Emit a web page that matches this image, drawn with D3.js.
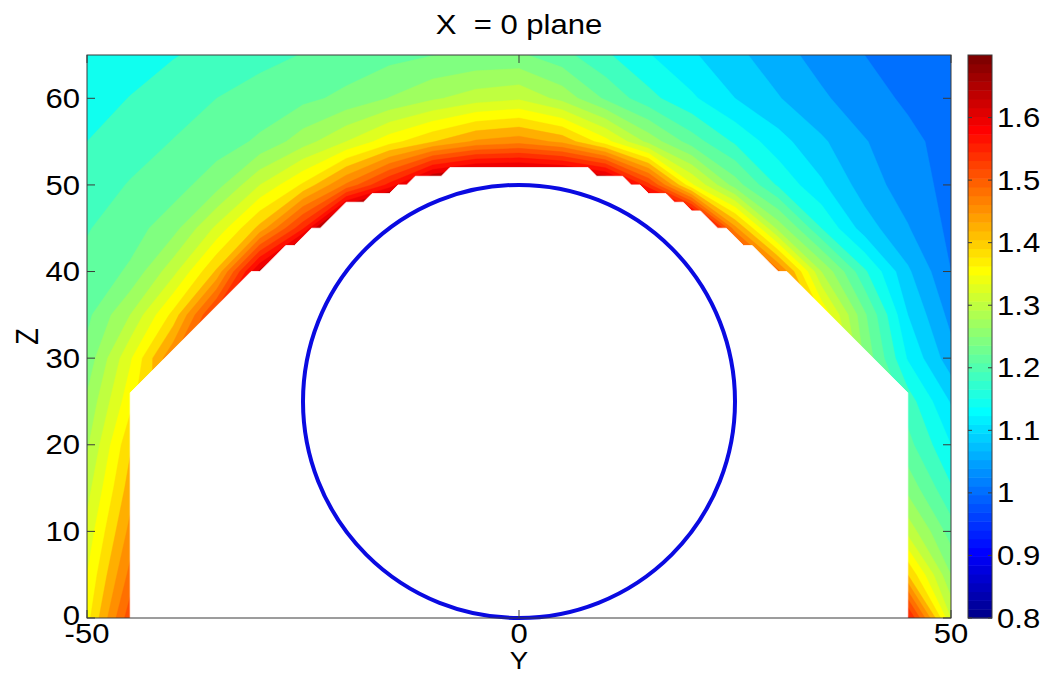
<!DOCTYPE html>
<html>
<head>
<meta charset="utf-8">
<script src="https://cdn.jsdelivr.net/npm/d3@7"></script>
<style>
  html, body { margin: 0; padding: 0; background: #fff; }
  svg { display: block; }
  text { font-family: "Liberation Sans", Arial, Helvetica, sans-serif; font-size: 27px; fill: #000; white-space: pre; }
</style>
</head>
<body>
<svg id="chart" width="1048" height="673"></svg>
<script>
// Sample grid (Y across, Z up), 5-unit spacing
const yGrid = [-50, -45, -40, -35, -30, -25, -20, -15, -10, -5, 0, 5, 10, 15, 20, 25, 30, 35, 40, 45, 50];
const zGrid = [0, 5, 10, 15, 20, 25, 30, 35, 40, 45, 50, 55, 60, 65];

// Field values on the X = 0 plane, one row per Z (Z = 0 first)
const fieldRows = [
  /* Z=0  */ [1.378, 1.530, 1.75, 1.75, 1.75, 1.75, 1.75, 1.75, 1.75, 1.75, 1.75, 1.75, 1.75, 1.75, 1.75, 1.75, 1.75, 1.75, 1.75, 1.580, 1.330],
  /* Z=5  */ [1.360, 1.490, 1.75, 1.75, 1.75, 1.75, 1.75, 1.75, 1.75, 1.75, 1.75, 1.75, 1.75, 1.75, 1.75, 1.75, 1.75, 1.75, 1.75, 1.420, 1.270],
  /* Z=10 */ [1.340, 1.460, 1.75, 1.75, 1.75, 1.75, 1.75, 1.75, 1.75, 1.75, 1.75, 1.75, 1.75, 1.75, 1.75, 1.75, 1.75, 1.75, 1.75, 1.320, 1.225],
  /* Z=15 */ [1.318, 1.435, 1.75, 1.75, 1.75, 1.75, 1.75, 1.75, 1.75, 1.75, 1.75, 1.75, 1.75, 1.75, 1.75, 1.75, 1.75, 1.75, 1.75, 1.260, 1.183],
  /* Z=20 */ [1.295, 1.415, 1.75, 1.75, 1.75, 1.75, 1.75, 1.75, 1.75, 1.75, 1.75, 1.75, 1.75, 1.75, 1.75, 1.75, 1.75, 1.75, 1.75, 1.220, 1.150],
  /* Z=25 */ [1.275, 1.380, 1.460, 1.75, 1.75, 1.75, 1.75, 1.75, 1.75, 1.75, 1.75, 1.75, 1.75, 1.75, 1.75, 1.75, 1.75, 1.75, 1.290, 1.195, 1.117],
  /* Z=30 */ [1.250, 1.355, 1.480, 1.620, 1.75, 1.75, 1.75, 1.75, 1.75, 1.75, 1.75, 1.75, 1.75, 1.75, 1.75, 1.75, 1.75, 1.450, 1.263, 1.147, 1.072],
  /* Z=35 */ [1.232, 1.300, 1.400, 1.560, 1.720, 1.80, 1.80, 1.80, 1.80, 1.80, 1.80, 1.80, 1.80, 1.80, 1.80, 1.80, 1.550, 1.390, 1.245, 1.120, 1.050],
  /* Z=40 */ [1.218, 1.245, 1.320, 1.425, 1.640, 1.850, 1.85, 1.85, 1.85, 1.85, 1.85, 1.85, 1.85, 1.85, 1.85, 1.700, 1.490, 1.300, 1.185, 1.095, 1.030],
  /* Z=45 */ [1.208, 1.226, 1.258, 1.337, 1.430, 1.565, 1.800, 1.900, 1.90, 1.90, 1.90, 1.90, 1.90, 1.850, 1.750, 1.460, 1.290, 1.180, 1.105, 1.062, 1.022],
  /* Z=50 */ [1.195, 1.212, 1.226, 1.258, 1.330, 1.395, 1.485, 1.580, 1.700, 1.740, 1.740, 1.730, 1.700, 1.550, 1.365, 1.255, 1.175, 1.125, 1.075, 1.045, 1.020],
  /* Z=55 */ [1.180, 1.197, 1.211, 1.225, 1.245, 1.286, 1.330, 1.378, 1.418, 1.455, 1.468, 1.442, 1.372, 1.290, 1.225, 1.175, 1.132, 1.095, 1.062, 1.038, 1.018],
  /* Z=60 */ [1.166, 1.181, 1.197, 1.210, 1.221, 1.232, 1.248, 1.271, 1.295, 1.315, 1.325, 1.290, 1.235, 1.190, 1.155, 1.120, 1.092, 1.065, 1.042, 1.025, 1.012],
  /* Z=65 */ [1.152, 1.165, 1.178, 1.190, 1.202, 1.211, 1.220, 1.230, 1.239, 1.244, 1.245, 1.220, 1.185, 1.152, 1.124, 1.098, 1.072, 1.048, 1.030, 1.016, 1.005]
];

// Filled contour levels and colour limits
const levelStart = 0.97, levelStep = 0.03, levelCount = 26;
const colorLimits = [0.8, 1.7];

// Axis ticks
const yTicks = [-50, 0, 50];
const zTicks = [0, 10, 20, 30, 40, 50, 60];
const colorTicks = [0.8, 0.9, 1, 1.1, 1.2, 1.3, 1.4, 1.5, 1.6];

// Region with no field data (Y, Z)
const maskOutline = [
  [-45, -1], [-45, 26], [-31, 40], [-30, 40], [-29, 41], [-28, 42], [-27, 43], [-26, 43], [-25, 44],
  [-24, 45], [-23, 45], [-22, 46], [-21, 47], [-20, 48], [-18, 48], [-17, 49], [-15, 49], [-14, 50],
  [-13, 50], [-12, 51], [-9, 51], [-8, 52], [8, 52], [9, 51], [12, 51], [13, 50], [14, 50], [15, 49],
  [17, 49], [18, 48], [19, 48], [20, 47], [21, 47], [22, 46], [23, 45], [24, 45], [25, 44], [26, 43],
  [27, 43], [28, 42], [29, 41], [30, 40], [31, 40], [45, 26], [45, -1]
];

// Cross-section circle: centre (Y, Z) and radius
const ringCenter = [0, 25];
const ringRadius = 25;

const titleText = "X  = 0 plane";
const xLabelText = "Y";
const zLabelText = "Z";

// ---------------------------------------------------------------
const svg = d3.select("#chart");
const plot = { left: 87, right: 951, top: 55, bottom: 618 };
const bar = { left: 968, right: 992 };
const stretch = 1.15;
const halfCap = 9.6;

const x = d3.scaleLinear().domain([-50, 50]).range([plot.left, plot.right]);
const z = d3.scaleLinear().domain([0, 65]).range([plot.bottom, plot.top]);

// MATLAB-style jet colormap with 64 entries
function jet64(i) {
  const u = k => (k <= 16 ? k / 16 : (k <= 31 ? 1 : (48 - k) / 16));
  const n = i + 1;
  const r = n >= 25 ? u(n - 24) : 0;
  const g = (n >= 9 && n <= 55) ? u(n - 8) : 0;
  const b = n <= 39 ? u(n + 8) : 0;
  return d3.rgb(Math.round(r * 255), Math.round(g * 255), Math.round(b * 255)).toString();
}
function colorIndex(v) {
  const t = (v - colorLimits[0]) / (colorLimits[1] - colorLimits[0]);
  return Math.max(0, Math.min(63, Math.floor(t * 64 + 1e-9)));
}

const thresholds = d3.range(levelCount).map(i => +(levelStart + i * levelStep).toFixed(3));
const values = fieldRows.flat();
const bands = d3.contours()
  .size([yGrid.length, zGrid.length])
  .thresholds(thresholds)(values);

const dy = yGrid[1] - yGrid[0], dz = zGrid[1] - zGrid[0];
const gridProjection = d3.geoTransform({
  point(gx, gz) {
    this.stream.point(x(yGrid[0] + (gx - 0.5) * dy), z(zGrid[0] + (gz - 0.5) * dz));
  }
});
const bandPath = d3.geoPath(gridProjection);

svg.append("clipPath").attr("id", "plotClip")
  .append("rect")
  .attr("x", plot.left).attr("y", plot.top)
  .attr("width", plot.right - plot.left).attr("height", plot.bottom - plot.top);

const field = svg.append("g").attr("clip-path", "url(#plotClip)");

field.selectAll("path.band")
  .data(bands)
  .join("path")
  .attr("class", "band")
  .attr("d", bandPath)
  .attr("fill", d => jet64(colorIndex(d.value)))
  .attr("stroke", d => jet64(colorIndex(d.value)))
  .attr("stroke-width", 0.4);

// blank region
field.append("path")
  .attr("d", d3.line().x(p => x(p[0])).y(p => z(p[1]))(maskOutline) + "Z")
  .attr("fill", "#fff")
  .attr("stroke", "#fff")
  .attr("stroke-width", 0.8);

// circle outline
svg.append("ellipse")
  .attr("cx", x(ringCenter[0]))
  .attr("cy", z(ringCenter[1]))
  .attr("rx", x(ringRadius) - x(0))
  .attr("ry", z(0) - z(ringRadius))
  .attr("fill", "none")
  .attr("stroke", "rgb(10,10,225)")
  .attr("stroke-width", 4);

// axes box and ticks
const axisColor = "#3a3a3a";
svg.append("rect")
  .attr("x", plot.left).attr("y", plot.top)
  .attr("width", plot.right - plot.left).attr("height", plot.bottom - plot.top)
  .attr("fill", "none").attr("stroke", axisColor).attr("stroke-width", 1);

const tickLen = 8;
zTicks.forEach(v => {
  const yy = z(v);
  svg.append("line").attr("x1", plot.left).attr("x2", plot.left + tickLen).attr("y1", yy).attr("y2", yy)
    .attr("stroke", axisColor);
  svg.append("line").attr("x1", plot.right).attr("x2", plot.right - tickLen).attr("y1", yy).attr("y2", yy)
    .attr("stroke", axisColor);
});
yTicks.forEach(v => {
  const xx = x(v);
  svg.append("line").attr("x1", xx).attr("x2", xx).attr("y1", plot.bottom).attr("y2", plot.bottom - tickLen)
    .attr("stroke", axisColor);
  svg.append("line").attr("x1", xx).attr("x2", xx).attr("y1", plot.top).attr("y2", plot.top + tickLen)
    .attr("stroke", axisColor);
});

function label(px, py, str, anchor, rotate, size) {
  const t = svg.append("text")
    .attr("transform", `translate(${px},${py}) scale(${stretch},1)` + (rotate ? ` rotate(${rotate})` : ""))
    .attr("text-anchor", anchor)
    .text(str);
  if (size) t.style("font-size", size + "px");
  return t;
}

zTicks.forEach(v => label(plot.left - 7, z(v) + halfCap - (v === 0 ? 3 : 0), String(v), "end"));
yTicks.forEach(v => label(x(v), 643, String(v), "middle"));
label((plot.left + plot.right) / 2, 668.5, xLabelText, "middle", 0, 24);
label(38, (plot.top + plot.bottom) / 2, zLabelText, "middle", -90);
label((plot.left + plot.right) / 2, 34, titleText, "middle");

// colorbar
const c = d3.scaleLinear().domain(colorLimits).range([plot.bottom, plot.top]);
const cb = svg.append("g");
const nColors = 64;
const cellStep = (colorLimits[1] - colorLimits[0]) / nColors;
cb.selectAll("rect.cell")
  .data(d3.range(nColors))
  .join("rect")
  .attr("class", "cell")
  .attr("x", bar.left)
  .attr("width", bar.right - bar.left)
  .attr("y", i => c(colorLimits[0] + (i + 1) * cellStep))
  .attr("height", i => c(colorLimits[0] + i * cellStep) - c(colorLimits[0] + (i + 1) * cellStep) + 0.5)
  .attr("fill", i => jet64(i));
cb.append("rect")
  .attr("x", bar.left).attr("y", plot.top)
  .attr("width", bar.right - bar.left).attr("height", plot.bottom - plot.top)
  .attr("fill", "none").attr("stroke", axisColor);
colorTicks.forEach(v => {
  const yy = c(v);
  cb.append("line").attr("x1", bar.left).attr("x2", bar.left + 4).attr("y1", yy).attr("y2", yy).attr("stroke", axisColor);
  cb.append("line").attr("x1", bar.right).attr("x2", bar.right - 4).attr("y1", yy).attr("y2", yy).attr("stroke", axisColor);
  label(bar.right + 5, yy + halfCap, String(v), "start");
});
</script>
</body>
</html>
